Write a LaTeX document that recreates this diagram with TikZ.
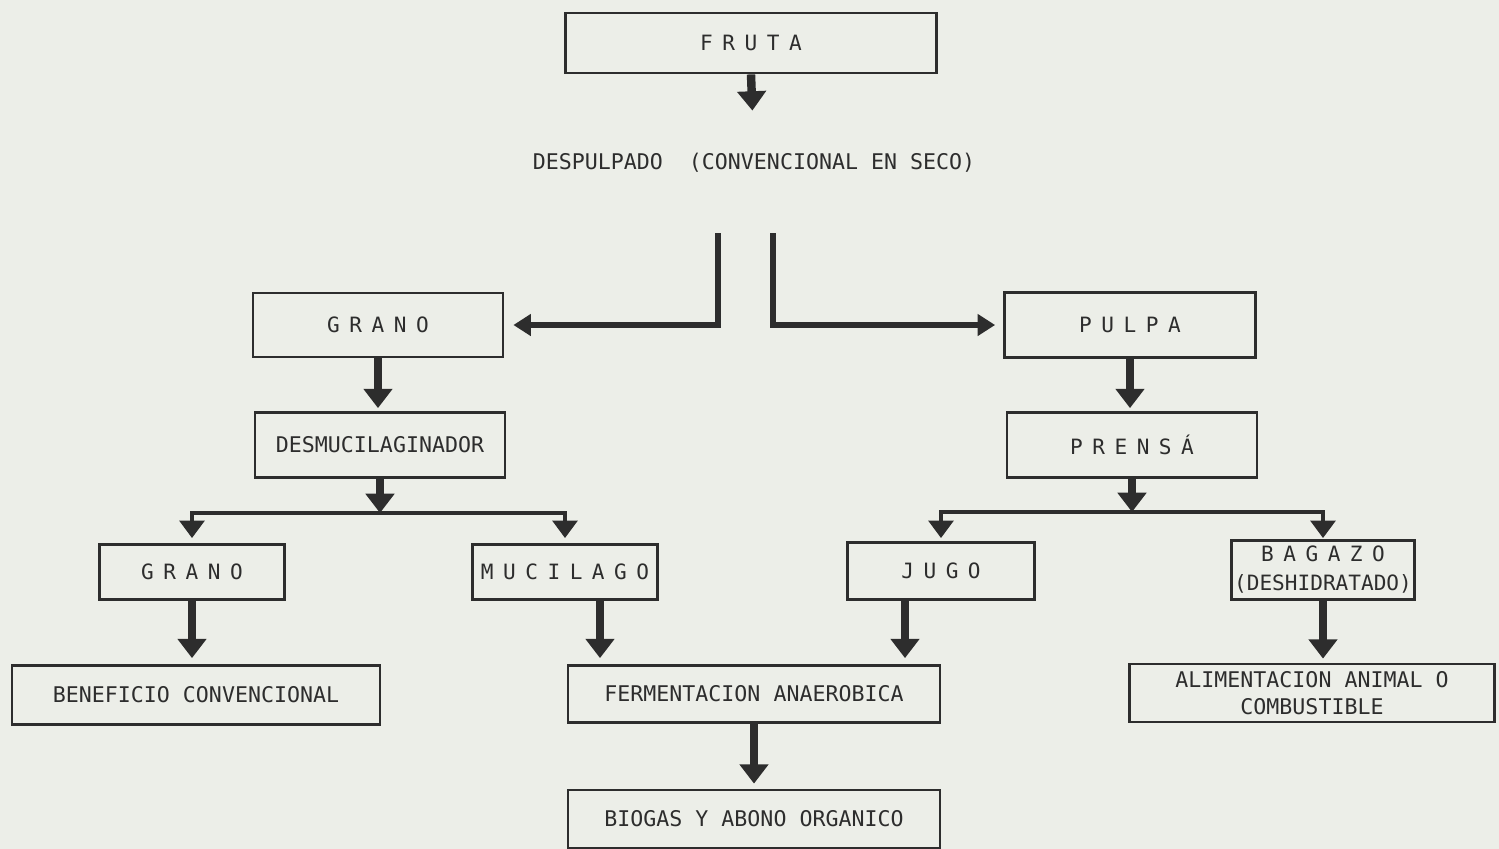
\documentclass[tikz,border=0pt]{standalone}
\usepackage{fontspec}
\setmainfont{DejaVu Sans Mono}
\newfontfamily\spacedfont[WordSpace=0.75]{DejaVu Sans Mono}
\usetikzlibrary{arrows.meta,calc}
\definecolor{paper}{RGB}{236,238,232}
\definecolor{ink}{RGB}{45,45,45}

\begin{document}
\begin{tikzpicture}[x=0.02cm,y=-0.02cm,
  box/.style={draw=ink,line width=1.6pt,fill=paper,text=ink,inner sep=0pt,align=center,font=\fontsize{12.3}{15.5}\selectfont},
  spaced/.style={box,font=\spacedfont\fontsize{12}{16.5}\selectfont},
  fat/.style={draw=ink,line width=4.8pt,-{Triangle[width=16pt,length=11pt]}},
  side/.style={draw=ink,line width=3pt,-{Triangle[width=12pt,length=10pt]}},
  branch/.style={draw=ink,line width=2.6pt,-{Triangle[width=14pt,length=10pt]}}]
\useasboundingbox (0,0) rectangle (1499,849);
\fill[paper] (0,0) rectangle (1499,849);
\node[spaced,minimum width=7.42cm,minimum height=1.2cm] (fruta) at (751,43) {F R U T A};
\node[text=ink,inner sep=0pt,font=\fontsize{12.3}{15}\selectfont] (despulpado) at (754,163) {DESPULPADO\ \ (CONVENCIONAL EN SECO)};
\node[spaced,minimum width=5cm,minimum height=1.28cm] (grano) at (378,325) {G R A N O};
\node[spaced,minimum width=5.02cm,minimum height=1.3cm] (pulpa) at (1130,325) {P U L P A};
\node[box,minimum width=5cm,minimum height=1.3cm] (desmuc) at (380,445) {DESMUCILAGINADOR};
\node[spaced,minimum width=5cm,minimum height=1.3cm] (prensa) at (1132,445) {P R E N S Á};
\node[spaced,minimum width=3.7cm,minimum height=1.1cm] (granob) at (192,572) {G R A N O};
\node[spaced,minimum width=3.7cm,minimum height=1.1cm] (mucilago) at (565,572) {M U C I L A G O};
\node[spaced,minimum width=3.74cm,minimum height=1.14cm] (jugo) at (941,571) {J U G O};
\node[spaced,minimum width=3.66cm,minimum height=1.18cm] (bagazo) at (1323,570) {B A G A Z O\\(DESHIDRATADO)};
\node[box,minimum width=7.36cm,minimum height=1.18cm] (beneficio) at (196,695) {BENEFICIO CONVENCIONAL};
\node[box,minimum width=7.44cm,minimum height=1.14cm] (fermentacion) at (754,694) {FERMENTACION ANAEROBICA};
\node[box,minimum width=7.44cm,minimum height=1.16cm] (biogas) at (754,819) {BIOGAS Y ABONO ORGANICO};
\node[box,minimum width=7.3cm,minimum height=1.16cm] (alimentacion) at (1312,693) {ALIMENTACION ANIMAL O\\COMBUSTIBLE};
\coordinate (sl) at (718,233);
\coordinate (sr) at (773,233);
\coordinate (jl) at (380,513);
\coordinate (jr) at (1132,512);
\coordinate (ml) at ($(mucilago.south)+(35,0)$);
\coordinate (mr) at ($(jugo.south)+(-36,0)$);
\draw[fat,shorten >=0.85cm] (fruta.south) -- (despulpado.north);
\draw[side,shorten >=0.18cm] (sl) |- (grano.east);
\draw[side,shorten >=0.16cm] (sr) |- (pulpa.west);
\draw[fat,shorten >=0.06cm] (grano.south) -- (grano.south |- desmuc.north);
\draw[fat,shorten >=0.06cm] (pulpa.south) -- (pulpa.south |- prensa.north);
\draw[fat] (desmuc.south) -- (jl);
\draw[branch,shorten >=0.1cm] (jl) -| (granob.north);
\draw[branch,shorten >=0.1cm] (jl) -| (mucilago.north);
\draw[fat] (prensa.south) -- (jr);
\draw[branch,shorten >=0.06cm] (jr) -| (jugo.north);
\draw[branch,shorten >=0.02cm] (jr) -| (bagazo.north);
\draw[fat,shorten >=0.12cm] (granob.south) -- (granob.south |- beneficio.north);
\draw[fat,shorten >=0.12cm] (ml) -- (ml |- fermentacion.north);
\draw[fat,shorten >=0.12cm] (mr) -- (mr |- fermentacion.north);
\draw[fat,shorten >=0.1cm] (fermentacion.south) -- (biogas.north);
\draw[fat,shorten >=0.08cm] (bagazo.south) -- (bagazo.south |- alimentacion.north);
\end{tikzpicture}
\end{document}
